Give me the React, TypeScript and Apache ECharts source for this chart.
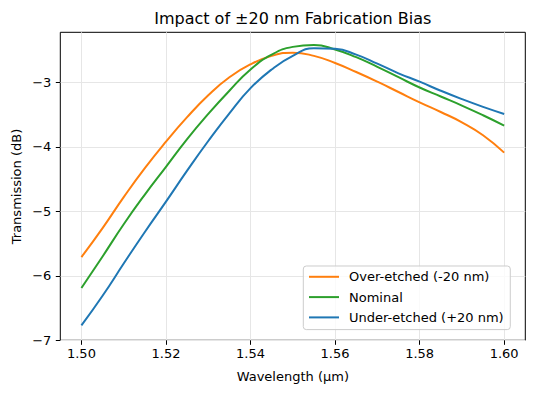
import React, { useEffect, useRef } from "react";
import * as echarts from "echarts";

const wavelengths = [
  1.5, 1.505, 1.51, 1.515, 1.52, 1.525, 1.53, 1.535, 1.54, 1.545, 1.55,
  1.555, 1.56, 1.565, 1.57, 1.575, 1.58, 1.585, 1.59, 1.595, 1.6,
];
const overEtched = [
  -5.71, -5.26, -4.78, -4.33, -3.92, -3.54, -3.2, -2.92, -2.72, -2.59, -2.54,
  -2.59, -2.7, -2.84, -2.99, -3.15, -3.31, -3.46, -3.62, -3.82, -4.09,
];
const nominal = [
  -6.19, -5.7, -5.2, -4.74, -4.31, -3.88, -3.49, -3.13, -2.8, -2.57, -2.45,
  -2.42, -2.49, -2.61, -2.76, -2.92, -3.08, -3.22, -3.36, -3.51, -3.67,
];
const underEtched = [
  -6.77, -6.31, -5.81, -5.32, -4.85, -4.37, -3.91, -3.48, -3.09, -2.8, -2.59,
  -2.47, -2.48, -2.57, -2.71, -2.86, -2.99, -3.13, -3.26, -3.38, -3.49,
];
const seriesNames = ["Over-etched (-20 nm)", "Nominal", "Under-etched (+20 nm)"];
const seriesColors = ["#ff7f0e", "#2ca02c", "#1f77b4"];
const xTicks = [1.5, 1.52, 1.54, 1.56, 1.58, 1.6];
const yTicks = [-7, -6, -5, -4, -3];

const FONT = "DejaVu Sans";

export default function App() {
  const ref = useRef<HTMLDivElement>(null);
  useEffect(() => {
    const chart = echarts.init(ref.current!, null, { renderer: "svg" });
    const allValues = [overEtched, nominal, underEtched];
    const minus = (s: string) => s.replace("-", "\u2212");
    chart.setOption({
      animation: false,
      textStyle: { fontFamily: FONT },
      grid: {
        left: 60.3,
        top: 32.3,
        width: 465,
        height: 308,
        show: true,
        borderColor: "#000",
        borderWidth: 1,
        backgroundColor: "transparent",
        containLabel: false,
      },
      graphic: [
        {
          type: "text",
          x: 292.8,
          y: 18,
          style: {
            text: "Impact of \u00b120 nm Fabrication Bias",
            font: `16px "${FONT}"`,
            fill: "#000",
            textAlign: "center",
            textVerticalAlign: "middle",
          },
        },
        {
          type: "text",
          x: 292.8,
          y: 376,
          style: {
            text: "Wavelength (\u00b5m)",
            font: `13px "${FONT}"`,
            fill: "#000",
            textAlign: "center",
            textVerticalAlign: "middle",
          },
        },
        {
          type: "text",
          x: 16.5,
          y: 186.5,
          rotation: Math.PI / 2,
          style: {
            text: "Transmission (dB)",
            font: `13px "${FONT}"`,
            fill: "#000",
            textAlign: "center",
            textVerticalAlign: "middle",
          },
        },
      ],
      legend: {
        orient: "vertical",
        left: 303.3,
        top: 266,
        data: seriesNames,
        itemWidth: 30,
        itemHeight: 14,
        itemGap: 7.3,
        padding: [4.3, 6.6, 5.7, 4.7],
        backgroundColor: "rgba(255,255,255,0.8)",
        borderColor: "#cccccc",
        borderWidth: 1,
        borderRadius: 3,
        itemStyle: { opacity: 0 },
        lineStyle: { width: 2 },
        textStyle: {
          fontFamily: FONT,
          fontSize: 13,
          color: "#000",
          padding: [0, 0, 0, 5],
        },
      },
      xAxis: {
        type: "value",
        min: 1.495,
        max: 1.605,
        axisLine: { show: false },
        axisTick: {
          show: true,
          length: 4.5,
          lineStyle: { color: "#000", width: 1 },
          customValues: xTicks,
        },
        axisLabel: {
          customValues: xTicks,
          margin: 7,
          fontSize: 13,
          fontFamily: FONT,
          color: "#000",
          formatter: (v: number) => v.toFixed(2),
        },
        splitLine: { show: true, lineStyle: { color: "#e6e6e6", width: 1 } },
      },
      yAxis: {
        type: "value",
        min: -7,
        max: -2.224,
        axisLine: { show: false },
        axisTick: {
          show: true,
          length: 4.5,
          lineStyle: { color: "#000", width: 1 },
          customValues: yTicks,
        },
        axisLabel: {
          customValues: yTicks,
          margin: 9,
          fontSize: 13,
          fontFamily: FONT,
          color: "#000",
          formatter: (v: number) => minus(String(v)),
        },
        splitLine: { show: true, lineStyle: { color: "#e6e6e6", width: 1 } },
      },
      series: seriesNames.map((name, i) => ({
        name,
        type: "line",
        data: wavelengths.map((w, j) => [w, allValues[i][j]]),
        showSymbol: false,
        symbol: "none",
        smooth: 0.5,
        color: seriesColors[i],
        lineStyle: { color: seriesColors[i], width: 2 },
      })),
    });
    return () => chart.dispose();
  }, []);
  return (
    <div
      ref={ref}
      style={{ position: "absolute", left: 0, top: 0, width: 534, height: 393 }}
    />
  );
}
